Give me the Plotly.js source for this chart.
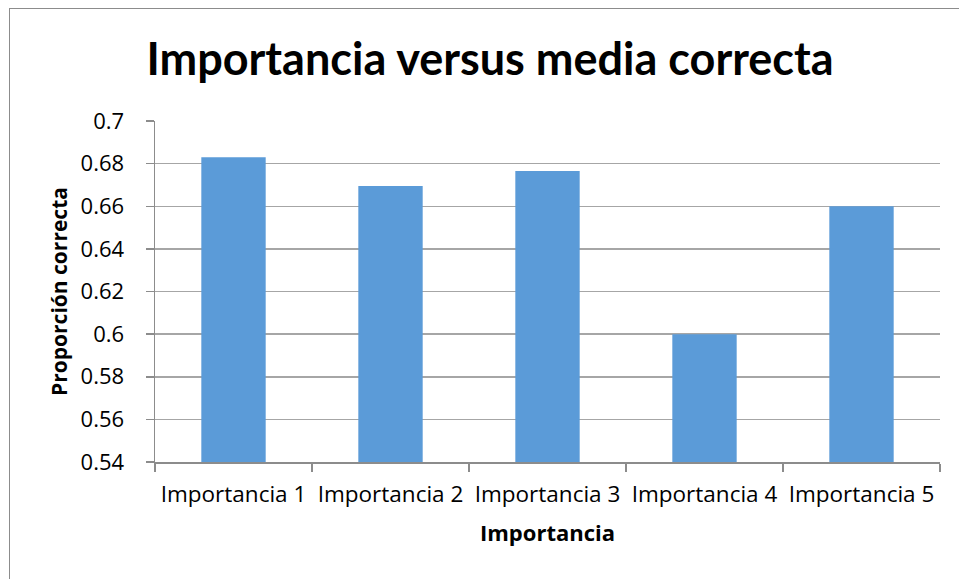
<!DOCTYPE html>
<html>
<head>
<meta charset="utf-8">
<script src="https://cdn.plot.ly/plotly-3.0.1.min.js"></script>
<style>
html,body{margin:0;padding:0;background:#fff;}
#frame{position:absolute;left:9px;top:8px;width:960px;height:580px;border:1.5px solid #8c8c8c;box-sizing:border-box;}
#chart{position:absolute;left:0;top:0;width:959px;height:579px;}
</style>
</head>
<body>
<div id="frame"></div>
<div id="chart"></div>
<script>
const categories = ["Importancia 1","Importancia 2","Importancia 3","Importancia 4","Importancia 5"];
const values = [0.683, 0.6695, 0.6765, 0.600, 0.660];
const yTicks = [0.54,0.56,0.58,0.6,0.62,0.64,0.66,0.68,0.7];
const yTickText = ["0.54","0.56","0.58","0.6","0.62","0.64","0.66","0.68","0.7"];
const titleText = "Importancia versus media correcta";
const xTitle = "Importancia";
const yTitle = "Proporción correcta";

const font = "'Open Sans', sans-serif";
const titleFont = "Lato, 'Open Sans', sans-serif";

const trace = {
  type: "bar",
  x: categories,
  y: values,
  base: 0,
  marker: {color: "#5b9bd8", line: {width: 0}},
  hoverinfo: "x+y"
};

const layout = {
  width: 959, height: 579,
  paper_bgcolor: "rgba(0,0,0,0)",
  plot_bgcolor: "rgba(0,0,0,0)",
  margin: {l: 155, r: 19, t: 121, b: 117},
  bargap: 0.59,
  showlegend: false,
  title: {
    text: "<b>" + titleText + "</b>",
    font: {family: titleFont, size: 45, color: "#000"},
    x: 0.511, xanchor: "center", y: 0.897, yanchor: "middle"
  },
  xaxis: {
    type: "category",
    showgrid: false,
    showline: true, linecolor: "#8c8c8c", linewidth: 1.5,
    ticks: "outside", ticklen: 8, tickcolor: "#8c8c8c", tickwidth: 1.5,
    tickson: "boundaries",
    tickangle: 0,
    tickfont: {family: font, size: 22.5, color: "#000"},
    ticklabelstandoff: 11,
    title: {text: "<b>" + xTitle + "</b>", font: {family: font, size: 22, color: "#000"}, standoff: 18},
    automargin: false
  },
  yaxis: {
    range: [0.54, 0.7],
    tickvals: yTicks, ticktext: yTickText,
    showgrid: true, gridcolor: "#a6a6a6", gridwidth: 1.5,
    showline: true, linecolor: "#8c8c8c", linewidth: 1.5,
    zeroline: false,
    ticks: "outside", ticklen: 8, tickcolor: "#8c8c8c", tickwidth: 1.5,
    tickfont: {family: font, size: 22, color: "#000"},
    ticklabelstandoff: 17,
    title: {text: "<b>" + yTitle + "</b>", font: {family: font, size: 21, color: "#000"}, standoff: 7},
    automargin: false
  }
};

Plotly.newPlot("chart", [trace], layout, {displayModeBar: false, staticPlot: true});
</script>
</body>
</html>
